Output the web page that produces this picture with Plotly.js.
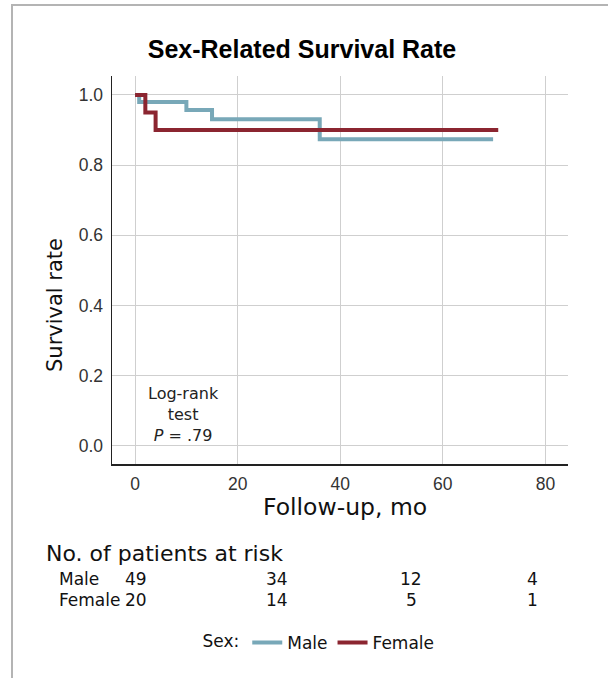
<!DOCTYPE html>
<html>
<head>
<meta charset="utf-8">
<script src="https://cdn.plot.ly/plotly-3.0.1.min.js"></script>
<style>
  html, body { margin: 0; padding: 0; background: #ffffff; }
  #chart { position: absolute; left: 0; top: 0; width: 608px; height: 678px; }
  #frame { position: absolute; left: 11px; top: 4px; right: 0; bottom: 0;
           border-left: 2px solid #b4b4b4; border-top: 2px solid #b4b4b4;
           pointer-events: none; }
</style>
</head>
<body>
<div id="chart"></div>
<div id="frame"></div>
<script>
// ---- Data ----
const maleTime = [0, 0.8, 10, 15, 36, 69.8];
const maleSurv = [1.0, 0.980, 0.957, 0.931, 0.874, 0.874];
const femaleTime = [0, 2, 4, 70.8];
const femaleSurv = [1.0, 0.950, 0.900, 0.900];

const seriesNames = ["Male", "Female"];
const riskMale = [49, 34, 12, 4];
const riskFemale = [20, 14, 5, 1];

const xTicks = [0, 20, 40, 60, 80];
const yTicks = [0.0, 0.2, 0.4, 0.6, 0.8, 1.0];
const yTickText = ["0.0", "0.2", "0.4", "0.6", "0.8", "1.0"];

// ---- Layout geometry ----
const W = 608, H = 678;
const M = { l: 112, r: 40, t: 76, b: 214 };
const PW = W - M.l - M.r, PH = H - M.t - M.b;
const px = v => (v - M.l) / PW;
const py = v => (H - M.b - v) / PH;

const BODY = "DejaVu Sans, Liberation Sans, Arial, sans-serif";
const ARIAL = "Liberation Sans, Arial, sans-serif";
const MALE_C = "#78a8b8", FEMALE_C = "#8b2530";

const traces = [
  { x: maleTime, y: maleSurv, name: seriesNames[0], type: "scatter", mode: "lines",
    line: { shape: "hv", color: MALE_C, width: 4 } },
  { x: femaleTime, y: femaleSurv, name: seriesNames[1], type: "scatter", mode: "lines",
    line: { shape: "hv", color: FEMALE_C, width: 4 } }
];

const annotations = [
  { text: "Log-rank<br>test<br><i>P</i> = .79", xref: "paper", yref: "paper",
    x: px(183), y: py(414), xanchor: "center", yanchor: "middle", showarrow: false,
    align: "center", font: { family: BODY, size: 16, color: "#222" } },
  { text: "Survival rate", xref: "paper", yref: "paper", x: px(55), y: py(305),
    xanchor: "center", yanchor: "middle", textangle: -90, showarrow: false,
    font: { family: BODY, size: 21, color: "#111" } },
  { text: "Follow-up, mo", xref: "paper", yref: "paper", x: px(345), y: py(507),
    xanchor: "center", yanchor: "middle", showarrow: false,
    font: { family: BODY, size: 23.5, color: "#111" } },
  { text: "No. of patients at risk", xref: "paper", yref: "paper", x: px(44), y: py(553),
    xanchor: "left", yanchor: "middle", showarrow: false,
    font: { family: BODY, size: 22, color: "#111" } },
  { text: seriesNames[0], xref: "paper", yref: "paper", x: px(57), y: py(579),
    xanchor: "left", yanchor: "middle", showarrow: false,
    font: { family: BODY, size: 17, color: "#111" } },
  { text: seriesNames[1], xref: "paper", yref: "paper", x: px(57), y: py(600),
    xanchor: "left", yanchor: "middle", showarrow: false,
    font: { family: BODY, size: 17, color: "#111" } }
];
const riskCols = [136, 277, 411, 532];
riskMale.forEach((v, i) => annotations.push({
  text: String(v), xref: "paper", yref: "paper", x: px(riskCols[i]), y: py(579),
  xanchor: "center", yanchor: "middle", showarrow: false,
  font: { family: BODY, size: 17, color: "#111" } }));
riskFemale.forEach((v, i) => annotations.push({
  text: String(v), xref: "paper", yref: "paper", x: px(riskCols[i]), y: py(600),
  xanchor: "center", yanchor: "middle", showarrow: false,
  font: { family: BODY, size: 17, color: "#111" } }));

const layout = {
  width: W, height: H,
  margin: M,
  paper_bgcolor: "rgba(0,0,0,0)",
  plot_bgcolor: "#ffffff",
  showlegend: true,
  title: { text: "<b>Sex-Related Survival Rate</b>", xref: "container", yref: "container",
           x: 302 / W, y: 1 - 49 / H, xanchor: "center", yanchor: "middle",
           font: { family: ARIAL, size: 25, color: "#000" } },
  xaxis: { range: [-4.5, 84.4], tickvals: xTicks, ticktext: xTicks.map(String),
           showgrid: true, gridcolor: "#cfcfcf", gridwidth: 1, zeroline: false,
           showline: true, linecolor: "#222", linewidth: 1.5,
           ticks: "outside", ticklen: 3, tickcolor: "rgba(0,0,0,0)",
           tickfont: { family: ARIAL, size: 17.5, color: "#333" }, fixedrange: true },
  yaxis: { range: [-0.052, 1.054], tickvals: yTicks, ticktext: yTickText,
           showgrid: true, gridcolor: "#cfcfcf", gridwidth: 1, zeroline: false,
           showline: true, linecolor: "#222", linewidth: 1.5,
           ticks: "outside", ticklen: 4, tickcolor: "rgba(0,0,0,0)",
           tickfont: { family: ARIAL, size: 17.5, color: "#333" }, fixedrange: true },
  legend: { orientation: "h", xref: "container", yref: "container",
            x: 320 / W, y: 1 - 643 / H, xanchor: "center", yanchor: "middle",
            title: { text: "Sex:", side: "left", font: { family: BODY, size: 17, color: "#111" } },
            font: { family: BODY, size: 17, color: "#111" },
            bgcolor: "rgba(0,0,0,0)", itemwidth: 30, tracegroupgap: 0 },
  annotations: annotations
};

Plotly.newPlot("chart", traces, layout, { staticPlot: true, displayModeBar: false });
</script>
</body>
</html>
